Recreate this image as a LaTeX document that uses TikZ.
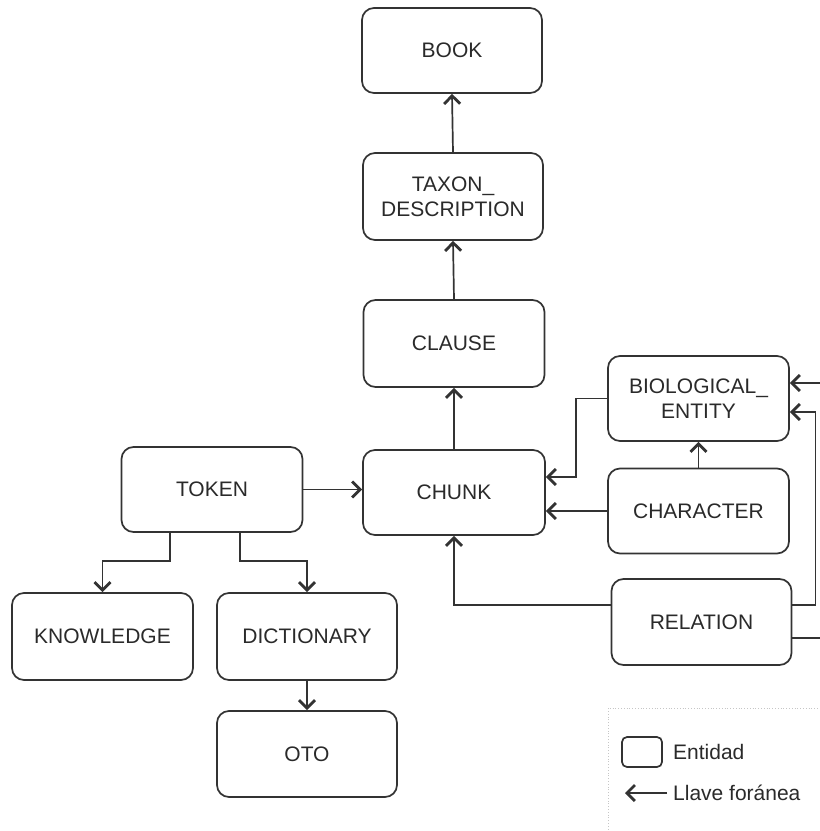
\documentclass[tikz,border=0pt]{standalone}
\usepackage{fontspec}
\setmainfont{Liberation Sans}
\usetikzlibrary{arrows.meta}
\definecolor{txt}{HTML}{2A2A2A}
\definecolor{ln}{HTML}{333333}
\tikzset{
  ent/.style={draw=ln, line width=1.7pt, rounded corners=12pt, minimum width=180pt, minimum height=86pt,
    align=center, text=txt, font=\fontsize{21}{25}\selectfont, inner sep=0pt},
  fk/.style={draw=ln, line width=1.7pt, -{Straight Barb[length=8pt,width=16pt,line width=2.8pt]}},
  ln/.style={draw=ln, line width=1.7pt},
  legtxt/.style={text=txt, font=\fontsize{21}{25}\selectfont, anchor=west, inner sep=0pt}
}
\begin{document}
\begin{tikzpicture}[x=1pt,y=-1pt]
\useasboundingbox (0,0) rectangle (820,831);
\fill[white] (0,0) rectangle (820,831);

\node[ent, minimum width=180pt, minimum height=85pt] (BOOK) at (452,50.5) {BOOK};
\node[ent, minimum height=87pt] (TAXON) at (453,196.5) {TAXON\_\\DESCRIPTION};
\node[ent, minimum width=181pt, minimum height=87pt] (CLAUSE) at (454,343.5) {CLAUSE};
\node[ent, minimum width=182pt, minimum height=85pt] (CHUNK) at (454,492.5) {CHUNK};
\node[ent, minimum width=181pt, minimum height=85pt] (TOKEN) at (212,489.5) {TOKEN};
\node[ent, minimum width=181pt, minimum height=87pt] (KNOWLEDGE) at (102.5,636.5) {KNOWLEDGE};
\node[ent, minimum height=87pt] (DICTIONARY) at (307,636.5) {DICTIONARY};
\node[ent] (OTO) at (307,754) {OTO};
\node[ent, minimum width=181pt, minimum height=85pt] (BIO) at (698.5,398.5) {BIOLOGICAL\_\\ENTITY};
\node[ent, minimum width=181pt, minimum height=85pt] (CHARACTER) at (698.5,511) {CHARACTER};
\node[ent] (RELATION) at (701.5,622) {RELATION};

% connectors
\draw[fk] (TAXON.north) -- (BOOK.south);
\draw[fk] (CLAUSE.north) -- (TAXON.south);
\draw[fk] (CHUNK.north) -- (CLAUSE.south);
\draw[fk] (TOKEN.east) -- (TOKEN.east -| CHUNK.west);
\draw[fk] ([xshift=-42pt]TOKEN.south) -- ++(0,28) -| (KNOWLEDGE.north);
\draw[fk] ([xshift=28pt]TOKEN.south) -- ++(0,28) -| (DICTIONARY.north);
\draw[fk] (DICTIONARY.south) -- (OTO.north);
\draw[fk] (BIO.west) -- ++(-31,0) |- ([yshift=15.5pt]CHUNK.east);
\draw[fk] (CHARACTER.west) -- (CHARACTER.west -| CHUNK.east);
\draw[fk] (CHARACTER.north) -- (BIO.south);
\draw[fk] ([yshift=17pt]RELATION.west) -| (CHUNK.south);
\draw[fk] ([yshift=17pt]RELATION.east) -- ++(23,0) |- ([yshift=-13.5pt]BIO.east);
\coordinate (offA) at (824,383);
\coordinate (offB) at (824,638);
\draw[fk] (offA) -- (offA -| BIO.east);
\draw[ln] (RELATION.east |- offB) -- (offB);

% legend
\draw[gray!45, line width=0.8pt, dotted] (608,835) -- (608,708) -- (824,708);
\node[draw=ln, line width=1.7pt, rounded corners=5pt, minimum width=40pt, minimum height=30pt, inner sep=0pt] (LEGBOX) at (642,752) {};
\node[legtxt] (LEGENT) at (673,752) {Entidad};
\node[legtxt] (LEGFK) at (673,793) {Llave foránea};
\draw[fk] ([xshift=-6pt]LEGFK.west) -- ++(-42,0);
\end{tikzpicture}
\end{document}
